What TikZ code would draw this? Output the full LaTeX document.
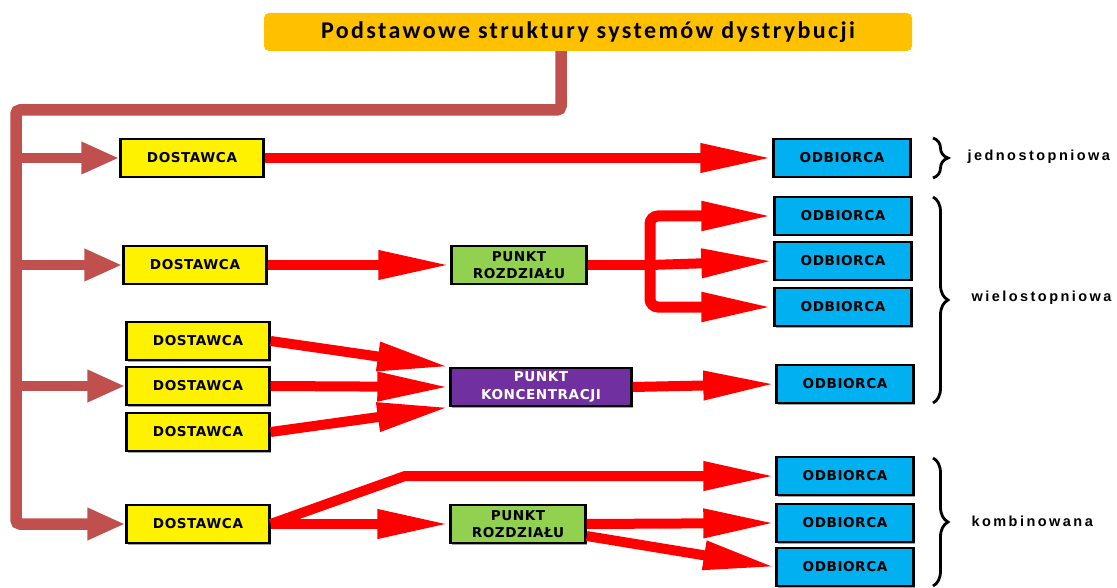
\documentclass[tikz,border=0pt]{standalone}
\usepackage{fontspec}
\usepackage{xcolor}
\usetikzlibrary{arrows.meta,decorations.pathreplacing,shadows}

\setmainfont{Liberation Sans}
\newfontfamily\titlefont[LetterSpace=10]{Carlito}
\newfontfamily\boxfont[LetterSpace=4]{DejaVu Sans}
\newfontfamily\bracefont[LetterSpace=17]{Liberation Sans}

\definecolor{titleorange}{HTML}{FFC000}
\definecolor{trunkbrown}{HTML}{C0504D}
\definecolor{receiverblue}{HTML}{00B0F0}
\definecolor{pointgreen}{HTML}{92D050}
\definecolor{pointpurple}{HTML}{7030A0}

\tikzset{
	box/.style={draw=black, line width=2.4pt, inner sep=0pt, align=center, minimum height=38pt, drop shadow={shadow xshift=1.5pt, shadow yshift=-1.5pt, fill=black!45, opacity=0.8}, font=\boxfont\bfseries\fontsize{13.6}{17.5}\selectfont},
	supplier/.style={box, fill=yellow, minimum width=143pt},
	receiver/.style={box, fill=receiverblue, minimum width=137pt},
	distpoint/.style={box, fill=pointgreen, minimum width=135pt},
	concpoint/.style={box, fill=pointpurple, minimum width=181pt, text=white},
	redarrow/.style={draw=red, line width=10pt, -{Triangle[length=72pt,width=27pt]}},
	trunkarrow/.style={draw=trunkbrown, line width=10pt, -{Triangle[length=38pt,width=30pt]}},
	bracket/.style={draw=black, line width=2.8pt, decorate, decoration={brace, amplitude=15pt}},
	bracelabel/.style={anchor=west, font=\bracefont\bfseries\fontsize{14.5}{16}\selectfont}
}

\begin{document}
\begin{tikzpicture}[x=1pt, y=-1pt]
		\useasboundingbox (0,0) rectangle (1117,588);
		
		%Title
		\node[fill=titleorange, rounded corners=5pt, minimum width=648pt, minimum height=38pt, font=\titlefont\bfseries\fontsize{24}{26}\selectfont] (title) at (588,32) {Podstawowe struktury systemów dystrybucji};
		
		%Nodes
		\node[supplier] (D1) at (192,158) {DOSTAWCA};
		\node[receiver] (O1) at (842,158) {ODBIORCA};
		
		\node[supplier] (D2) at (195,265) {DOSTAWCA};
		\node[distpoint] (P1) at (519,265) {PUNKT\\ROZDZIAŁU};
		\node[receiver] (O2a) at (843,216) {ODBIORCA};
		\node[receiver] (O2b) at (843,261) {ODBIORCA};
		\node[receiver] (O2c) at (843,307) {ODBIORCA};
		
		\node[supplier] (D3a) at (198,341) {DOSTAWCA};
		\node[supplier] (D3b) at (198,386) {DOSTAWCA};
		\node[supplier] (D3c) at (198,432) {DOSTAWCA};
		\node[concpoint] (K) at (541,387) {PUNKT\\KONCENTRACJI};
		\node[receiver] (O2d) at (845,384) {ODBIORCA};
		
		\node[supplier] (D4) at (198,524) {DOSTAWCA};
		\node[distpoint] (P2) at (518,524) {PUNKT\\ROZDZIAŁU};
		\node[receiver] (O3a) at (845,476) {ODBIORCA};
		\node[receiver] (O3b) at (845,523) {ODBIORCA};
		\node[receiver] (O3c) at (845,567) {ODBIORCA};
		
		%Trunk
		\coordinate (bend) at (16,110);
		\draw[trunkarrow, line width=11.5pt, rounded corners=4pt] ([xshift=-27pt]title.south) |- (bend) |- (D4.west);
		\draw[trunkarrow] (D1.west -| bend) -- (D1.west);
		\draw[trunkarrow] (D2.west -| bend) -- (D2.west);
		\draw[trunkarrow] (D3b.west -| bend) -- (D3b.west);
		
		%Flows
		\draw[redarrow] (D1.east) -- (O1.west);
		
		\draw[redarrow] (D2.east) -- (P1.west);
		\coordinate (fork) at (650,265);
		\draw[draw=red, line width=10pt] (P1.east) -- (fork);
		\draw[redarrow, line width=11pt, rounded corners=8pt] ([yshift=-5pt]fork) |- (O2a.west);
		\draw[redarrow, line width=11pt, rounded corners=8pt] ([yshift=5pt]fork) |- (O2c.west);
		\draw[redarrow] (fork) -- (O2b.west);
		
		\draw[redarrow] (D3a.east) -- (K.north west);
		\draw[redarrow] (D3b.east) -- (K.west);
		\draw[redarrow] (D3c.east) -- (K.south west);
		\draw[redarrow] (K.east) -- (O2d.west);
		
		\coordinate (rise) at (405,476);
		\draw[redarrow] (D4.east) -- (rise) -- (O3a.west);
		\draw[redarrow] (D4.east) -- (P2.west);
		\draw[redarrow] (P2.east) -- (O3b.west);
		\draw[redarrow] ([yshift=-12pt]P2.east) -- (O3c.west);
		
		%Braces
		\draw[bracket] (933,138) -- (933,178);
		\draw[bracket] (933,197) -- (933,403);
		\draw[bracket] (933,458) -- (933,586);
		\node[bracelabel] (one) at (964,157) {jednostopniowa};
		\node[bracelabel] (multi) at (968,298) {wielostopniowa};
		\node[bracelabel] (comb) at (968,521) {kombinowana};
		
\end{tikzpicture}
\end{document}
